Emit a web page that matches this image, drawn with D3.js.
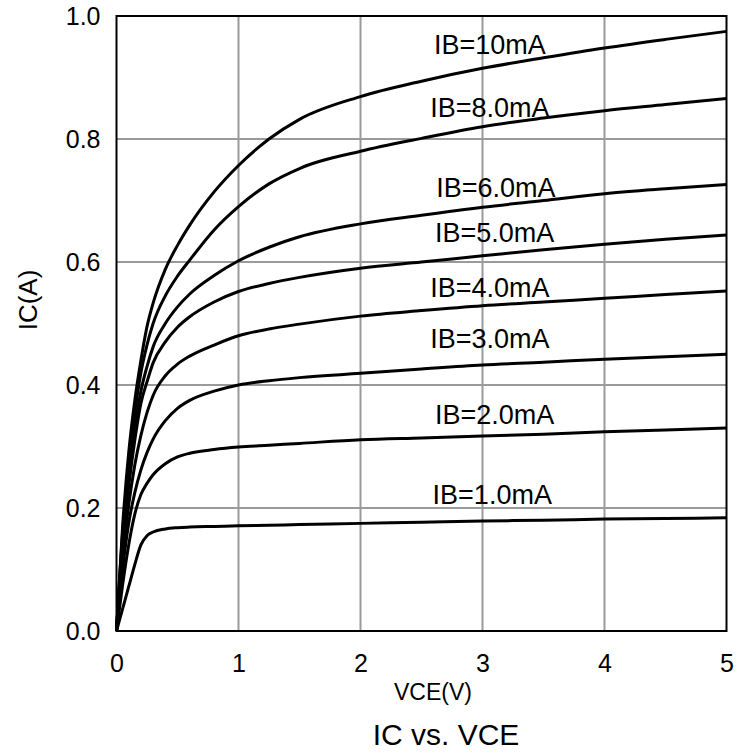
<!DOCTYPE html>
<html>
<head>
<meta charset="utf-8">
<script src="https://cdn.jsdelivr.net/npm/d3@7"></script>
<style>
  html, body { margin: 0; padding: 0; background: #fff; }
  svg text { font-family: "Liberation Sans", Arial, sans-serif; fill: #000; }
</style>
</head>
<body>
<svg id="chart" width="749" height="756"></svg>
<script>
// Collector-emitter voltage samples (V)
const vce = [0, 0.05, 0.1, 0.15, 0.2, 0.25, 0.3, 0.4, 0.5, 0.6, 0.8, 1.0, 1.25, 1.5, 2, 2.5, 3, 3.5, 4, 4.5, 5];

// Collector current (A) for each base current
const ib10 = [0, 0.17, 0.29, 0.375, 0.44, 0.495, 0.533, 0.588, 0.627, 0.66, 0.714, 0.757, 0.800, 0.832, 0.869, 0.894, 0.915, 0.932, 0.948, 0.962, 0.975];
const ib8  = [0, 0.16, 0.27, 0.355, 0.42, 0.465, 0.50, 0.545, 0.577, 0.603, 0.652, 0.69, 0.727, 0.752, 0.780, 0.801, 0.82, 0.834, 0.846, 0.856, 0.866];
const ib6  = [0, 0.15, 0.25, 0.33, 0.39, 0.43, 0.462, 0.50, 0.527, 0.548, 0.578, 0.602, 0.624, 0.641, 0.662, 0.676, 0.689, 0.70, 0.711, 0.719, 0.726];
const ib5  = [0, 0.14, 0.235, 0.31, 0.37, 0.405, 0.436, 0.47, 0.494, 0.511, 0.535, 0.552, 0.565, 0.575, 0.59, 0.60, 0.61, 0.62, 0.629, 0.637, 0.644];
const ib4  = [0, 0.12, 0.205, 0.27, 0.318, 0.355, 0.383, 0.415, 0.434, 0.447, 0.465, 0.480, 0.491, 0.499, 0.512, 0.521, 0.529, 0.535, 0.541, 0.547, 0.553];
const ib3  = [0, 0.10, 0.175, 0.225, 0.262, 0.29, 0.312, 0.342, 0.362, 0.375, 0.39, 0.40, 0.407, 0.412, 0.419, 0.426, 0.4325, 0.437, 0.442, 0.446, 0.450];
const ib2  = [0, 0.075, 0.14, 0.19, 0.222, 0.24, 0.254, 0.272, 0.283, 0.289, 0.295, 0.299, 0.302, 0.305, 0.311, 0.314, 0.317, 0.32, 0.324, 0.327, 0.330];
const ib1  = [0, 0.036, 0.072, 0.108, 0.14, 0.155, 0.161, 0.166, 0.168, 0.169, 0.170, 0.171, 0.172, 0.173, 0.175, 0.177, 0.179, 0.180, 0.182, 0.183, 0.184];

const seriesNames = ["IB=10mA", "IB=8.0mA", "IB=6.0mA", "IB=5.0mA", "IB=4.0mA", "IB=3.0mA", "IB=2.0mA", "IB=1.0mA"];
const seriesValues = [ib10, ib8, ib6, ib5, ib4, ib3, ib2, ib1];

// Curve label anchors in data units (VCE, IC)
const labelVce = [3.06, 3.06, 3.11, 3.1, 3.06, 3.06, 3.1, 3.08];
const labelIc = [0.939, 0.836, 0.706, 0.633, 0.543, 0.460, 0.336, 0.206];

const xTicks = [0, 1, 2, 3, 4, 5];
const yTicks = [0, 0.2, 0.4, 0.6, 0.8, 1.0];

const xTitle = "VCE(V)";
const yTitle = "IC(A)";
const chartTitle = "IC vs. VCE";

const svg = d3.select("#chart");
const plotLeft = 116.5, plotTop = 16, plotWidth = 610, plotHeight = 615;

const x = d3.scaleLinear().domain([0, 5]).range([plotLeft, plotLeft + plotWidth]);
const y = d3.scaleLinear().domain([0, 1]).range([plotTop + plotHeight, plotTop]);

// Gridlines
const grid = svg.append("g").attr("stroke", "#9a9a9a").attr("stroke-width", 2);
grid.selectAll("line.vx").data(xTicks.slice(1, -1)).join("line")
  .attr("x1", d => x(d)).attr("x2", d => x(d))
  .attr("y1", y(0)).attr("y2", y(1));
grid.selectAll("line.hy").data(yTicks.slice(1, -1)).join("line")
  .attr("x1", x(0)).attr("x2", x(5))
  .attr("y1", d => y(d)).attr("y2", d => y(d));

// Axes (labels only, ticks hidden)
const xAxis = d3.axisBottom(x).tickValues(xTicks).tickFormat(d3.format("d")).tickSize(0).tickPadding(23);
const yAxis = d3.axisLeft(y).tickValues(yTicks).tickFormat(d3.format(".1f")).tickSize(0).tickPadding(16);

const gx = svg.append("g").attr("transform", `translate(0,${y(0)})`).call(xAxis);
const gy = svg.append("g").attr("transform", `translate(${x(0)},0)`).call(yAxis);
[gx, gy].forEach(g => {
  g.select(".domain").remove();
  g.selectAll("text").attr("font-size", 25).attr("font-family", "Liberation Sans, Arial, sans-serif").attr("fill", "#000");
});

// Curves
const line = d3.line()
  .x((d, i) => x(vce[i]))
  .y(d => y(d))
  .curve(d3.curveMonotoneX);

svg.append("g").selectAll("path").data(seriesValues).join("path")
  .attr("d", d => line(d))
  .attr("fill", "none")
  .attr("stroke", "#000")
  .attr("stroke-width", 3)
  .attr("stroke-linejoin", "round");

// Plot frame
svg.append("rect")
  .attr("x", x(0)).attr("y", y(1))
  .attr("width", x(5) - x(0)).attr("height", y(0) - y(1))
  .attr("fill", "none").attr("stroke", "#000").attr("stroke-width", 2);

// Curve labels
svg.append("g").selectAll("text").data(seriesNames).join("text")
  .attr("x", (d, i) => x(labelVce[i]))
  .attr("y", (d, i) => y(labelIc[i]))
  .attr("text-anchor", "middle")
  .attr("font-size", 27)
  .text(d => d);

// Axis titles and chart title
svg.append("text")
  .attr("x", 433).attr("y", 700)
  .attr("text-anchor", "middle").attr("font-size", 23)
  .text(xTitle);

svg.append("text")
  .attr("transform", `translate(37,${300}) rotate(-90)`)
  .attr("text-anchor", "middle").attr("font-size", 26)
  .text(yTitle);

svg.append("text")
  .attr("x", 446).attr("y", 745)
  .attr("text-anchor", "middle").attr("font-size", 30)
  .text(chartTitle);
</script>
</body>
</html>
